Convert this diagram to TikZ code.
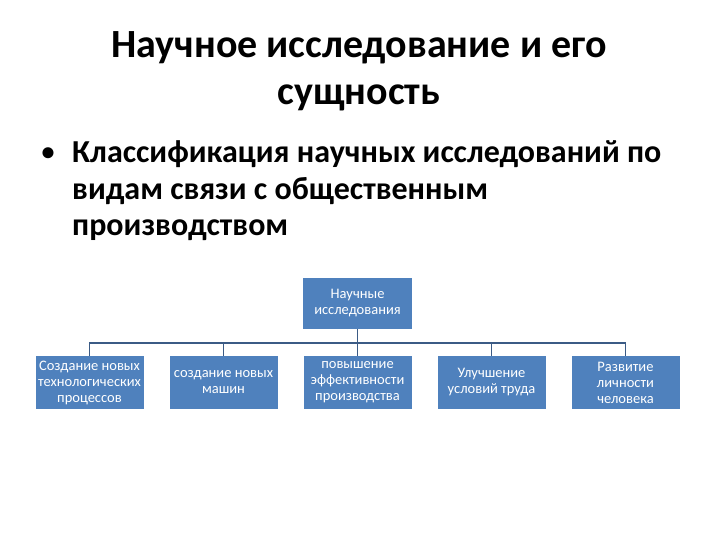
\documentclass[tikz,border=0pt]{standalone}
\usepackage{fontspec}
\setmainfont{Carlito}
\definecolor{boxblue}{HTML}{4F81BD}
\definecolor{connblue}{HTML}{3B5B85}
\begin{document}
\begin{tikzpicture}[x=1pt,y=-1pt,
  titletext/.style={font=\fontsize{40}{48}\selectfont\bfseries, inner sep=0pt, anchor=base},
  bodytext/.style={font=\fontsize{32}{38}\selectfont\bfseries, inner sep=0pt, anchor=base west},
  bullettext/.style={font=\fontsize{26}{30}\selectfont\bfseries, inner sep=0pt, anchor=base},
  box/.style={draw=none, fill=boxblue, text=white, align=center, inner sep=0pt,
    font=\fontsize{14.5}{16}\selectfont, minimum width=108pt},
  topbox/.style={box, minimum width=109pt, minimum height=51pt},
  childbox/.style={box, minimum height=53pt},
  conn/.style={draw=connblue, line width=1.6pt}
]
\useasboundingbox (0,0) rectangle (720,540);
\fill[white] (0,0) rectangle (720,540);

\node[titletext] (t1) at (359,58) {Научное исследование и его};
\node[titletext] (t2) at (359,105) {сущность};

\node[bullettext] (bul) at (48,161) {•};
\node[bodytext] (b1) at (72,163) {Классификация научных исследований по};
\node[bodytext] (b2) at (72,199.5) {видам связи с общественным};
\node[bodytext] (b3) at (72,236) {производством};

\node[topbox] (top) at (357.5,303.5) {Научные\\исследования};

\node[childbox] (c1) at (89.5,382.5) {Создание новых\\технологических\\процессов};
\node[childbox] (c2) at (223.5,382.5) {создание новых\\машин};
\node[childbox] (c3) at (357.5,382.5) {повышение\\эффективности\\производства};
\node[childbox] (c4) at (491.5,382.5) {Улучшение\\условий труда};
\node[childbox] (c5) at (625.5,382.5) {Развитие\\личности\\человека};

\foreach \c in {c1,c2,c3,c4,c5}{
  \draw[conn] (top.south) -- ++(0,14) -| (\c.north);
}
\end{tikzpicture}
\end{document}
